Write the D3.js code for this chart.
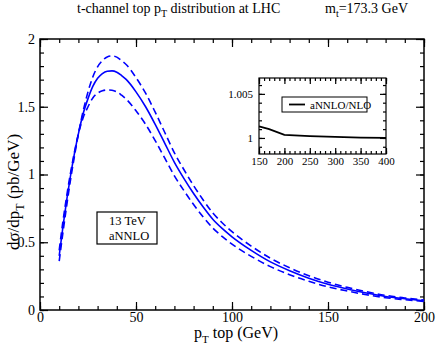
<!DOCTYPE html>
<html lang="en">
<head>
<meta charset="UTF-8">
<title>t-channel top pT</title>
<style>
    body { margin:0; background:#fff; }
    text { font-family: "Liberation Serif", "Times New Roman", serif; }
</style>
</head>
<body>
<script src="https://cdn.jsdelivr.net/npm/d3@7"></script>
<script>
// main plot data
var ptValues = [10,12,14,16,18,20,22.5,25,27.5,30,32.5,35,37.5,40,42.5,45,50,55,60,65,70,75,80,85,90,95,100,110,120,130,140,150,160,170,180,190,200];
var central = [0.40,0.62,0.82,1.00,1.16,1.30,1.45,1.56,1.65,1.71,1.745,1.762,1.765,1.755,1.73,1.70,1.61,1.50,1.37,1.23,1.09,0.97,0.86,0.76,0.67,0.60,0.54,0.44,0.355,0.29,0.235,0.19,0.155,0.125,0.10,0.083,0.068];
var upper = [0.36,0.577,0.78,0.97,1.14,1.30,1.47,1.61,1.72,1.795,1.84,1.868,1.875,1.866,1.84,1.81,1.715,1.60,1.46,1.31,1.16,1.035,0.918,0.812,0.716,0.642,0.578,0.472,0.382,0.312,0.253,0.205,0.167,0.135,0.108,0.089,0.073];
var lower = [0.44,0.66,0.85,1.02,1.17,1.30,1.42,1.50,1.565,1.60,1.618,1.624,1.622,1.61,1.585,1.555,1.47,1.37,1.25,1.12,0.99,0.88,0.778,0.687,0.605,0.541,0.486,0.396,0.32,0.261,0.212,0.171,0.14,0.113,0.091,0.076,0.063];
var xTicks = [0,50,100,150,200];
var yTicks = [0,0.5,1,1.5,2];

// inset data
var ratioPt = [150,170,200,250,300,350,400];
var ratioVal = [1.0013,1.0010,1.00034,1.0002,1.00012,1.00004,1.0];
var insetXTicks = [150,200,250,300,350,400];
var insetYTicks = [1,1.005];

var W = 436, H = 345;
var svg = d3.select("body").append("svg").attr("width",W).attr("height",H);

var L = 40, R = 424, T = 39, B = 310;
var x = d3.scaleLinear().domain([0,200]).range([L,R]);
var y = d3.scaleLinear().domain([0,2]).range([B,T]);

function styleAxis(g) {
    g.select(".domain").remove();
    g.selectAll("line").attr("stroke","#000").attr("stroke-width",1.2);
    g.selectAll("text").attr("font-family","Liberation Serif").attr("fill","#000");
}

// minor ticks
var xMinor = d3.range(0,201,10), yMinor = d3.range(0,2.001,0.1);
svg.append("g").attr("transform","translate(0,"+B+")")
    .call(d3.axisBottom(x).tickValues(xMinor).tickSize(-4).tickFormat(""))
    .call(styleAxis);
svg.append("g").attr("transform","translate(0,"+T+")")
    .call(d3.axisTop(x).tickValues(xMinor).tickSize(-4).tickFormat(""))
    .call(styleAxis);
svg.append("g").attr("transform","translate("+L+",0)")
    .call(d3.axisLeft(y).tickValues(yMinor).tickSize(-4).tickFormat(""))
    .call(styleAxis);
svg.append("g").attr("transform","translate("+R+",0)")
    .call(d3.axisRight(y).tickValues(yMinor).tickSize(-4).tickFormat(""))
    .call(styleAxis);

// major ticks
svg.append("g").attr("transform","translate(0,"+B+")")
    .call(d3.axisBottom(x).tickValues(xTicks).tickSize(-8).tickPadding(2).tickFormat(d3.format("d")))
    .call(styleAxis)
    .selectAll("text").attr("font-size","14px");
svg.append("g").attr("transform","translate(0,"+T+")")
    .call(d3.axisTop(x).tickValues(xTicks).tickSize(-8).tickFormat(""))
    .call(styleAxis);
svg.append("g").attr("transform","translate("+L+",0)")
    .call(d3.axisLeft(y).tickValues(yTicks).tickSize(-8).tickPadding(5).tickFormat(function(d){ return d; }))
    .call(styleAxis)
    .selectAll("text").attr("font-size","14px");
svg.append("g").attr("transform","translate("+R+",0)")
    .call(d3.axisRight(y).tickValues(yTicks).tickSize(-8).tickFormat(""))
    .call(styleAxis);

// frame
svg.append("rect").attr("x",L).attr("y",T).attr("width",R-L).attr("height",B-T)
    .attr("fill","none").attr("stroke","#000").attr("stroke-width",1.5);

// curves
var line = d3.line().x(function(d){ return x(d[0]); }).y(function(d){ return y(d[1]); }).curve(d3.curveMonotoneX);
function pairs(vals) { return ptValues.map(function(p,i){ return [p, vals[i]]; }); }
svg.append("path").datum(pairs(central)).attr("d",line)
    .attr("fill","none").attr("stroke","#0000ff").attr("stroke-width",1.6);
[upper, lower].forEach(function(s){
    svg.append("path").datum(pairs(s)).attr("d",line)
        .attr("fill","none").attr("stroke","#0000ff").attr("stroke-width",1.6)
        .attr("stroke-dasharray","7,4");
});

// title
var title = svg.append("text").attr("x",77).attr("y",13).attr("font-size","14px").attr("fill","#000");
title.append("tspan").text("t-channel top p");
title.append("tspan").attr("dy",4).attr("font-size","10px").text("T");
title.append("tspan").attr("dy",-4).text(" distribution at LHC");
var mt = svg.append("text").attr("x",325).attr("y",13).attr("font-size","14px").attr("fill","#000");
mt.append("tspan").text("m");
mt.append("tspan").attr("dy",4).attr("font-size","10px").text("t");
mt.append("tspan").attr("dy",-4).text("=173.3 GeV");

// axis labels
var xl = svg.append("text").attr("x",236).attr("y",338).attr("text-anchor","middle").attr("font-size","16px");
xl.append("tspan").text("p");
xl.append("tspan").attr("dy",5).attr("font-size","11px").text("T");
xl.append("tspan").attr("dy",-5).text("  top (GeV)");
var yl = svg.append("text").attr("transform","translate(19,192) rotate(-90)").attr("text-anchor","middle").attr("font-size","17px");
yl.append("tspan").text("dσ/dp");
yl.append("tspan").attr("dy",5).attr("font-size","12px").text("T");
yl.append("tspan").attr("dy",-5).text(" (pb/GeV)");

// text box
svg.append("rect").attr("x",97).attr("y",212).attr("width",60).attr("height",32)
    .attr("fill","#fff").attr("stroke","#000").attr("stroke-width",1.2);
svg.append("text").attr("x",109).attr("y",225).attr("font-size","12.5px").text("13 TeV");
svg.append("text").attr("x",109).attr("y",240).attr("font-size","12.5px").text("aNNLO");

// inset
var iL = 259, iR = 386, iT = 78, iB = 154;
var xi = d3.scaleLinear().domain([150,400]).range([iL,iR]);
var yi = d3.scaleLinear().domain([0.99818,1.0068]).range([iB,iT]);
svg.append("rect").attr("x",iL).attr("y",iT).attr("width",iR-iL).attr("height",iB-iT)
    .attr("fill","#fff").attr("stroke","none");
var xiMinor = d3.range(150,401,10), yiMinor = d3.range(0.999,1.0065,0.001);
svg.append("g").attr("transform","translate(0,"+iB+")")
    .call(d3.axisBottom(xi).tickValues(xiMinor).tickSize(-3).tickFormat("")).call(styleAxis);
svg.append("g").attr("transform","translate(0,"+iT+")")
    .call(d3.axisTop(xi).tickValues(xiMinor).tickSize(-3).tickFormat("")).call(styleAxis);
svg.append("g").attr("transform","translate("+iL+",0)")
    .call(d3.axisLeft(yi).tickValues(yiMinor).tickSize(-3).tickFormat("")).call(styleAxis);
svg.append("g").attr("transform","translate("+iR+",0)")
    .call(d3.axisRight(yi).tickValues(yiMinor).tickSize(-3).tickFormat("")).call(styleAxis);
svg.append("g").attr("transform","translate(0,"+iB+")")
    .call(d3.axisBottom(xi).tickValues(insetXTicks).tickSize(-6).tickPadding(3).tickFormat(d3.format("d")))
    .call(styleAxis).selectAll("text").attr("font-size","11px");
svg.append("g").attr("transform","translate(0,"+iT+")")
    .call(d3.axisTop(xi).tickValues(insetXTicks).tickSize(-6).tickFormat("")).call(styleAxis);
svg.append("g").attr("transform","translate("+iL+",0)")
    .call(d3.axisLeft(yi).tickValues(insetYTicks).tickSize(-6).tickPadding(6).tickFormat(function(d){ return d; }))
    .call(styleAxis).selectAll("text").attr("font-size","11px");
svg.append("g").attr("transform","translate("+iR+",0)")
    .call(d3.axisRight(yi).tickValues(insetYTicks).tickSize(-6).tickFormat("")).call(styleAxis);
svg.append("rect").attr("x",iL).attr("y",iT).attr("width",iR-iL).attr("height",iB-iT)
    .attr("fill","none").attr("stroke","#000").attr("stroke-width",1.2);

var iline = d3.line().x(function(d){ return xi(d[0]); }).y(function(d){ return yi(d[1]); });
svg.append("path").datum(ratioPt.map(function(p,i){ return [p, ratioVal[i]]; })).attr("d",iline)
    .attr("fill","none").attr("stroke","#000").attr("stroke-width",1.8);

// inset legend
svg.append("rect").attr("x",282).attr("y",97).attr("width",85).attr("height",15)
    .attr("fill","#fff").attr("stroke","#000").attr("stroke-width",1);
svg.append("line").attr("x1",289).attr("x2",305).attr("y1",104.5).attr("y2",104.5)
    .attr("stroke","#000").attr("stroke-width",1.8);
svg.append("text").attr("x",310).attr("y",108.5).attr("font-size","11px").text("aNNLO/NLO");
</script>
</body>
</html>
